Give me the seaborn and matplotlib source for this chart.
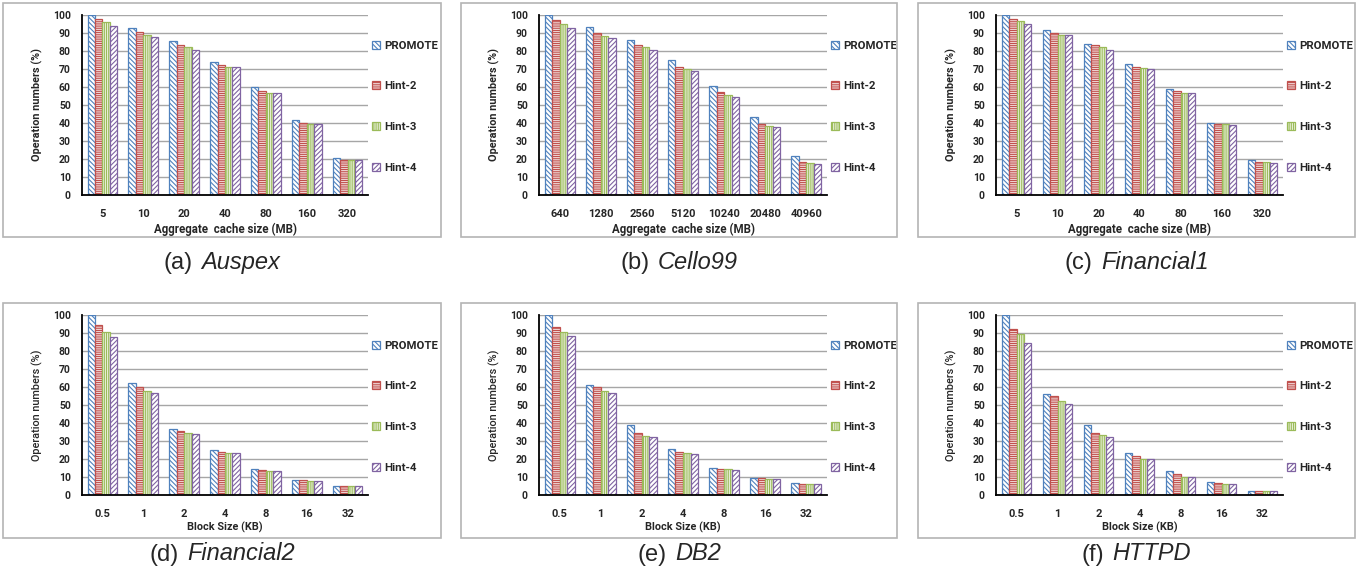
import numpy as np
import pandas as pd
import seaborn as sns
import matplotlib.pyplot as plt
from matplotlib.patches import Rectangle
from matplotlib.offsetbox import TextArea, HPacker, AnnotationBbox

## Data (percent of operations)
policies = ['PROMOTE', 'Hint-2', 'Hint-3', 'Hint-4']
cache_mb = ['5', '10', '20', '40', '80', '160', '320']
cache_mb_cello = ['640', '1280', '2560', '5120', '10240', '20480', '40960']
block_kb = ['0.5', '1', '2', '4', '8', '16', '32']

# rows: PROMOTE, Hint-2, Hint-3, Hint-4
auspex = [[100, 92.6, 85.7, 73.7, 59.8, 41.7, 20.4],
          [97.8, 90.6, 83.5, 72.2, 58.0, 39.8, 19.6],
          [95.9, 89.1, 82.0, 71.1, 56.9, 39.6, 19.4],
          [93.7, 88.0, 80.4, 71.1, 56.9, 39.6, 19.3]]
cello99 = [[100, 93.1, 86.1, 74.8, 60.7, 43.1, 21.5],
           [97.0, 89.8, 83.5, 71.1, 57.2, 39.4, 18.5],
           [95.0, 88.1, 82.0, 70.0, 55.6, 38.3, 17.6],
           [92.8, 87.4, 80.4, 68.9, 54.6, 37.8, 17.0]]
financial1 = [[100, 91.5, 83.9, 72.6, 58.7, 40.0, 19.4],
              [97.8, 89.8, 83.5, 71.1, 58.0, 39.6, 18.3],
              [96.7, 88.9, 82.0, 70.4, 56.5, 39.3, 18.3],
              [95.0, 88.9, 80.4, 70.0, 56.5, 38.9, 17.6]]
financial2 = [[100, 62.2, 36.5, 25.0, 14.4, 8.3, 5.2],
              [94.6, 59.8, 35.4, 24.1, 13.9, 8.1, 5.0],
              [90.6, 57.8, 34.4, 23.5, 13.5, 8.0, 5.0],
              [87.8, 56.7, 33.7, 23.3, 13.5, 8.0, 5.0]]
db2 = [[100, 61.1, 38.9, 25.6, 15.2, 9.6, 6.5],
       [93.3, 60.0, 34.4, 23.9, 14.3, 9.6, 6.3],
       [90.7, 57.8, 33.0, 23.3, 14.3, 8.9, 6.1],
       [88.3, 56.9, 32.0, 23.0, 13.7, 8.9, 6.1]]
httpd = [[100, 56.1, 38.9, 23.3, 13.3, 7.4, 2.4],
         [92.2, 55.2, 34.4, 21.9, 11.9, 6.5, 2.4],
         [89.3, 52.2, 33.2, 20.2, 10.2, 6.3, 2.4],
         [84.3, 50.6, 32.0, 20.2, 10.0, 5.9, 2.4]]

colors = ['#4F81BD', '#C0504D', '#9BBB59', '#8064A2']
hatches = ['\\' * 7, '-' * 9, '|' * 9, '/' * 7]

panels = [
    (auspex, cache_mb, 'Aggregate  cache size (MB)', '(a)', 'Auspex'),
    (cello99, cache_mb_cello, 'Aggregate  cache size (MB)', '(b)', 'Cello99'),
    (financial1, cache_mb, 'Aggregate  cache size (MB)', '(c)', 'Financial1'),
    (financial2, block_kb, 'Block Size (KB)', '(d)', 'Financial2'),
    (db2, block_kb, 'Block Size (KB)', '(e)', 'DB2'),
    (httpd, block_kb, 'Block Size (KB)', '(f)', 'HTTPD'),
]

## Layout (pixels)
W, H = 1372, 583
ax_left = [82, 539, 996]
ax_width = [286, 288, 287]
ax_bottom = [195, 495]
box_x = [(3, 441), (461, 897), (918, 1355)]
box_y = [(3, 237), (303, 538)]
cap_y = [262, 554]

sns.set_style('white')
plt.rcParams['font.family'] = ['Roboto', 'DejaVu Sans']
plt.rcParams['font.weight'] = 'bold'
plt.rcParams['hatch.linewidth'] = 0.8

fig = plt.figure(figsize=(W / 100, H / 100), dpi=100)

for i, (vals, cats, xlab, tag, name) in enumerate(panels):
    row, col = divmod(i, 3)
    ax = fig.add_axes([ax_left[col] / W, 1 - ax_bottom[row] / H, ax_width[col] / W, 180 / H])
    df = pd.DataFrame({'size': cats * 4,
                       'policy': np.repeat(policies, len(cats)),
                       'value': np.concatenate(vals)})
    sns.barplot(data=df, x='size', y='value', hue='policy', order=cats, hue_order=policies,
                palette=colors, saturation=1, width=0.73, errorbar=None, legend=False, ax=ax)
    for cont, c, h in zip(ax.containers, colors, hatches):
        for bar in cont:
            bar.set_facecolor('white')
            bar.set_edgecolor(c)
            bar.set_hatch(h)
            bar.set_linewidth(0.9)

    ax.set_ylim(0, 100)
    ax.set_xlim(-0.5, len(cats) - 0.5)
    ax.set_yticks(range(0, 101, 10))
    ax.yaxis.grid(True, color='#a6a6a6', lw=1)
    ax.set_axisbelow(True)
    for s in ['top', 'right']:
        ax.spines[s].set_visible(False)
    for s in ['left', 'bottom']:
        ax.spines[s].set_color('black')
        ax.spines[s].set_linewidth(1.3)
    ax.set_xticks(np.arange(-0.5, len(cats)), minor=True)
    ax.tick_params(axis='x', which='major', length=0, pad=10, labelsize=8)
    ax.tick_params(axis='x', which='minor', length=4, width=1, direction='out', color='black')
    ax.tick_params(axis='y', length=0, pad=8, labelsize=7.5)
    for lbl in ax.get_xticklabels() + ax.get_yticklabels():
        lbl.set_fontweight('bold')

    if row == 0:
        ax.set_xlabel(xlab, fontsize=8.3, fontweight='bold', labelpad=3)
        ax.set_ylabel('Operation numbers (%)', fontsize=7.8, fontweight='bold', labelpad=7)
    else:
        ax.set_xlabel(xlab, fontsize=7.8, fontweight='bold', labelpad=2)
        ax.set_ylabel('Operation numbers (%)', fontsize=7.8, fontweight='medium', labelpad=7)

    leg = ax.legend(ax.containers, policies, loc='center left', bbox_to_anchor=(1.015, 0.49),
                    frameon=False, fontsize=8.2, handlelength=0.7, handleheight=0.7,
                    handletextpad=0.35, labelspacing=2.7, borderpad=0, borderaxespad=0)
    for t in leg.get_texts():
        t.set_fontweight('bold')

    # panel frame
    x0, x1 = box_x[col]
    y0, y1 = box_y[row]
    fig.add_artist(Rectangle((x0 / W, 1 - y1 / H), (x1 - x0) / W, (y1 - y0) / H,
                             transform=fig.transFigure, fill=False,
                             edgecolor='#b4b4b4', lw=1.2))

    # caption
    t1 = TextArea(tag, textprops=dict(fontsize=17, family='Liberation Sans', weight='normal'))
    t2 = TextArea(name, textprops=dict(fontsize=17, family='Liberation Sans', weight='normal',
                                       style='italic'))
    pack = HPacker(children=[t1, t2], align='baseline', pad=0, sep=6)
    fig.add_artist(AnnotationBbox(pack, ((x0 + x1) / 2 / W, 1 - cap_y[row] / H),
                                  xycoords='figure fraction', frameon=False,
                                  box_alignment=(0.5, 0.5)))

fig.savefig('out.png', dpi=100)
